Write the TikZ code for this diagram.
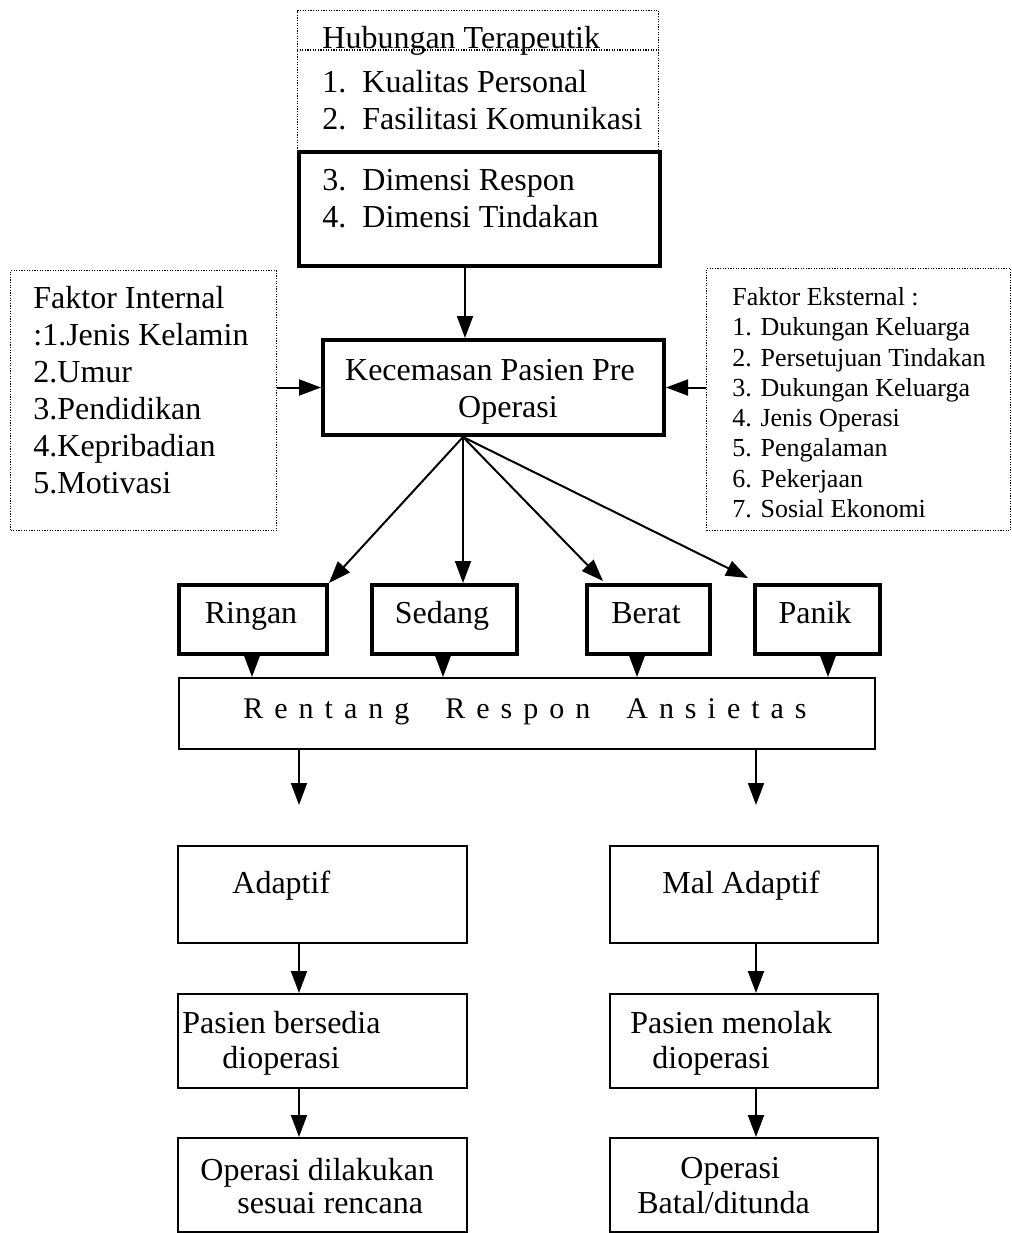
\documentclass[tikz,border=0pt]{standalone}
\usepackage{fontspec}
\setmainfont{Liberation Serif}
\usetikzlibrary{arrows.meta}
\newcommand{\bx}[6]{\node[#2, minimum width={(#5-#3)*0.5pt}, minimum height={(#6-#4)*0.5pt}] (#1) at (#3,#4) {};}
\newcommand{\lsp}{\hspace{5.5pt}}
\newcommand{\wsp}{\hspace{18pt}}
\begin{document}
\begin{tikzpicture}[x=0.5pt,y=-0.5pt,
  thinbox/.style={draw, line width=0.8pt, inner sep=0, anchor=north west},
  thickbox/.style={draw, line width=2pt, inner sep=0, anchor=north west},
  dotbox/.style={draw, line width=0.6pt, dash pattern=on 0.6pt off 0.7pt, inner sep=0, anchor=north west},
  dotline/.style={line width=0.6pt, dash pattern=on 0.6pt off 0.7pt},
  arr/.style={line width=1pt, -{Triangle[length=11pt,width=8pt]}},
  txt/.style={inner sep=0, anchor=base west, font=\fontsize{16}{19}\selectfont},
  stxt/.style={inner sep=0, anchor=base west, font=\fontsize{13}{15}\selectfont}]
\useasboundingbox (0,0) rectangle (1012,1233);

% boxes
\bx{topdot}{dotbox}{297}{10}{658}{264}
\bx{topbox}{thickbox}{297}{150}{658}{264}
\bx{intern}{dotbox}{10}{270}{276}{530}
\bx{ekstern}{dotbox}{706}{268}{1010}{530}
\bx{kec}{thickbox}{321}{338}{662}{433}
\bx{ringan}{thickbox}{177}{583}{325}{652}
\bx{sedang}{thickbox}{370}{583}{515}{652}
\bx{berat}{thickbox}{585}{583}{708}{652}
\bx{panik}{thickbox}{753}{583}{878}{652}
\bx{rentang}{thinbox}{178}{677}{874}{748}
\bx{adap}{thinbox}{177}{845}{466}{942}
\bx{mal}{thinbox}{609}{845}{877}{942}
\bx{bersedia}{thinbox}{177}{993}{466}{1087}
\bx{menolak}{thinbox}{609}{993}{877}{1087}
\bx{dilakukan}{thinbox}{177}{1137}{466}{1231}
\bx{batal}{thinbox}{609}{1137}{877}{1231}

% heading rule
\coordinate (hl) at (0,50);
\draw[dotline] (topdot.west |- hl) -- (topdot.east |- hl);

% top texts
\node[txt] (h0) at (322,48) {Hubungan Terapeutik};
\node[txt] (h1) at (322,92) {1.\ \ Kualitas Personal};
\node[txt] (h2) at (322,129) {2.\ \ Fasilitasi Komunikasi};
\node[txt] (h3) at (322,190) {3.\ \ Dimensi Respon};
\node[txt] (h4) at (322,227) {4.\ \ Dimensi Tindakan};

% internal
\node[txt] (i0) at (33,308) {Faktor Internal};
\node[txt] (i1) at (33,345) {:1.Jenis Kelamin};
\node[txt] (i2) at (33,382) {2.Umur};
\node[txt] (i3) at (33,419) {3.Pendidikan};
\node[txt] (i4) at (33,456) {4.Kepribadian};
\node[txt] (i5) at (33,493) {5.Motivasi};

% external
\node[stxt] (e0) at (732,305) {Faktor Eksternal :};
\node[stxt] (e1) at (732,335) {1. Dukungan Keluarga};
\node[stxt] (e2) at (732,366) {2. Persetujuan Tindakan};
\node[stxt] (e3) at (732,396) {3. Dukungan Keluarga};
\node[stxt] (e4) at (732,426) {4. Jenis Operasi};
\node[stxt] (e5) at (732,456) {5. Pengalaman};
\node[stxt] (e6) at (732,487) {6. Pekerjaan};
\node[stxt] (e7) at (732,517) {7. Sosial Ekonomi};

% kecemasan
\node[txt, anchor=base] (k1) at (490,380) {Kecemasan Pasien Pre};
\node[txt, anchor=base] (k2) at (508,417) {Operasi};

% levels
\node[txt, anchor=base] (t1) at (251,623) {Ringan};
\node[txt, anchor=base] (t2) at (442,623) {Sedang};
\node[txt, anchor=base] (t3) at (646,623) {Berat};
\node[txt, anchor=base] (t4) at (815,623) {Panik};

\node[txt, anchor=base, font=\fontsize{15}{18}\selectfont] (rt) at (525,718)
 {R\lsp e\lsp n\lsp t\lsp a\lsp n\lsp g\wsp R\lsp e\lsp s\lsp p\lsp o\lsp n\wsp A\lsp n\lsp s\lsp i\lsp e\lsp t\lsp a\lsp s};

% lower texts
\node[txt] (a1) at (232,893) {Adaptif};
\node[txt] (m1) at (662,893) {Mal Adaptif};
\node[txt] (b1) at (182,1033) {Pasien bersedia};
\node[txt] (b2) at (222,1068) {dioperasi};
\node[txt] (n1) at (630,1033) {Pasien menolak};
\node[txt] (n2) at (652,1068) {dioperasi};
\node[txt] (d1) at (200,1180) {Operasi dilakukan};
\node[txt] (d2) at (237,1213) {sesuai rencana};
\node[txt] (o1) at (680,1178) {Operasi};
\node[txt] (o2) at (637,1213) {Batal/ditunda};

% connectors
\coordinate (xt) at (465,0);
\draw[arr] (topbox.south -| xt) -- (kec.north -| xt);
\draw[arr] (intern.east |- kec.west) -- (kec.west);
\draw[arr] (ekstern.west |- kec.east) -- (kec.east);

\coordinate (xk) at (463,0);
\coordinate (kb) at (kec.south -| xk);
\coordinate (bt) at (603,581);
\coordinate (pt) at (748,578);
\draw[arr] (kb) -- (ringan.north east);
\draw[arr] (kb) -- (sedang.north -| xk);
\draw[arr] (kb) -- (bt);
\draw[arr] (kb) -- (pt);

\coordinate (xr) at (252,0);
\coordinate (xs) at (443,0);
\coordinate (xb) at (637,0);
\coordinate (xp) at (828,0);
\draw[arr] (ringan.south -| xr) -- (rentang.north -| xr);
\draw[arr] (sedang.south -| xs) -- (rentang.north -| xs);
\draw[arr] (berat.south -| xb) -- (rentang.north -| xb);
\draw[arr] (panik.south -| xp) -- (rentang.north -| xp);

\coordinate (xl) at (299,0);
\coordinate (xm) at (756,0);
\coordinate (la) at (299,805);
\coordinate (ra) at (756,805);
\draw[arr] (rentang.south -| xl) -- (la);
\draw[arr] (rentang.south -| xm) -- (ra);

\draw[arr] (adap.south -| xl) -- (bersedia.north -| xl);
\draw[arr] (bersedia.south -| xl) -- (dilakukan.north -| xl);
\draw[arr] (mal.south -| xm) -- (menolak.north -| xm);
\draw[arr] (menolak.south -| xm) -- (batal.north -| xm);
\end{tikzpicture}
\end{document}
